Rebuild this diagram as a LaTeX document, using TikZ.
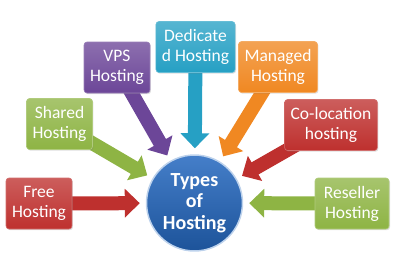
\documentclass[tikz,border=0pt]{standalone}
\usepackage{fontspec}
\setmainfont{Carlito}
\usetikzlibrary{arrows.meta,shadows,backgrounds}

\definecolor{hred}{RGB}{190,48,46}
\definecolor{hgreen}{RGB}{142,180,68}
\definecolor{hpurple}{RGB}{108,70,152}
\definecolor{hteal}{RGB}{38,160,196}
\definecolor{horange}{RGB}{240,136,34}
\definecolor{hblue}{RGB}{36,104,192}

\tikzset{
  hostbox/.style={rectangle, rounded corners=3pt, draw=#1!70!white, line width=0.6pt,
    top color=#1!78!white, bottom color=#1, text=white, align=center,
    font=\fontsize{17.5}{20}\selectfont, inner xsep=6pt, minimum width=64pt, minimum height=51pt,
    drop shadow={opacity=0.25, shadow xshift=1pt, shadow yshift=-1.2pt}},
  hostarrow/.style={draw=#1, line width=14pt, shorten >=6pt,
    -{Triangle[length=15pt, width=28pt]}},
}

\begin{document}
\begin{tikzpicture}[x=1pt, y=-1pt]
    \useasboundingbox (0,0) rectangle (400,269);

    % 1. 中心圆
    \node[circle, minimum size=94pt, draw=white!70!hblue, line width=1.5pt,
          top color=hblue!85!white, bottom color=hblue!80!black, text=white, align=center,
          font=\bfseries\fontsize{20}{21.5}\selectfont] (types) at (194.5,203) {Types\\of\\Hosting};

    % 2. 七个方框
    \node[hostbox=hred] (free) at (39,203.5) {Free\\Hosting};
    \node[hostbox=hgreen] (shared) at (59.5,124) {Shared\\Hosting};
    \node[hostbox=hpurple] (vps) at (117,67.5) {VPS\\Hosting};
    \node[hostbox=hteal, minimum width=78pt] (dedicated) at (195.5,47) {Dedicate\\d Hosting};
    \node[hostbox=horange] (managed) at (278,67) {Managed\\Hosting};
    \node[hostbox=hred] (coloc) at (331,125) {Co-location\\hosting};
    \node[hostbox=hgreen, minimum width=74pt] (reseller) at (352,203.5) {Reseller\\Hosting};

    % 3. 箭头 (放在背景层)
    \begin{scope}[on background layer]
        \draw[hostarrow=hred] (free.center) -- (types);
        \draw[hostarrow=hgreen] (shared.center) -- (types);
        \draw[hostarrow=hpurple] (vps.center) -- (types);
        \draw[hostarrow=hteal] (dedicated.center) -- (types);
        \draw[hostarrow=horange] (managed.center) -- (types);
        \draw[hostarrow=hred] (coloc.center) -- (types);
        \draw[hostarrow=hgreen] (reseller.center) -- (types);
    \end{scope}
\end{tikzpicture}
\end{document}
